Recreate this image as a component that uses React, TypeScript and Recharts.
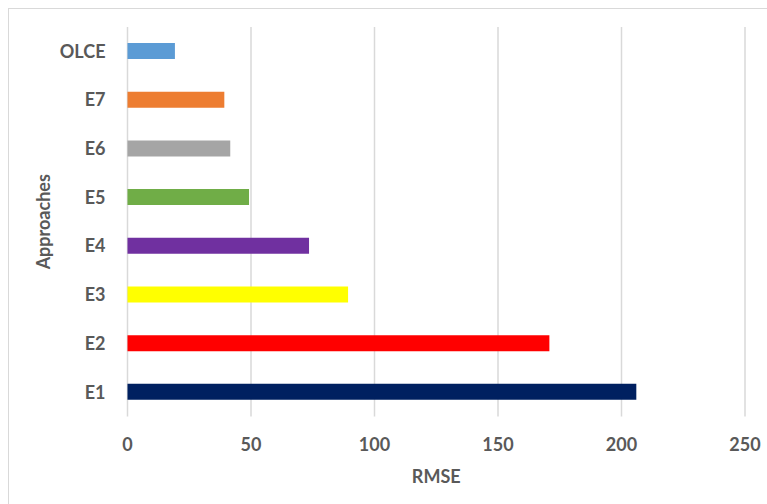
import { BarChart, Bar, XAxis, YAxis, CartesianGrid, Cell } from "recharts";

const approaches = ["OLCE", "E7", "E6", "E5", "E4", "E3", "E2", "E1"];
const rmse = [19.2, 39.2, 41.6, 49.2, 73.5, 89.3, 170.8, 206];
const barColors = ["#5B9BD5", "#ED7D31", "#A5A5A5", "#70AD47", "#7030A0", "#FFFF00", "#FF0000", "#002060"];
const xTicks = [0, 50, 100, 150, 200, 250];

const data = approaches.map((name, i) => ({ name, value: rmse[i] }));

const font = { fontFamily: "Lato", fontWeight: 700, fontSize: 18, fill: "#595959" };

export default function App() {
  // absolute so the body margin doesn't push the page into scrollbars
  return (
    <div
      style={{
        position: "absolute",
        left: 8,
        top: 8,
        width: 759,
        height: 496,
        boxSizing: "border-box",
        borderTop: "1px solid #d9d9d9",
        borderLeft: "1px solid #d9d9d9",
        background: "#fff",
        overflow: "hidden",
      }}
    >
      <BarChart
        width={758}
        height={495}
        data={data}
        layout="vertical"
        margin={{ top: 18, right: 22, left: 0, bottom: 0 }}
      >
        <CartesianGrid horizontal={false} stroke="#d9d9d9" strokeWidth={1.5} />
        <XAxis
          type="number"
          domain={[0, 250]}
          ticks={xTicks}
          axisLine={false}
          tickLine={false}
          tickSize={0}
          tickMargin={22}
          height={87.5}
          tick={font}
          label={{
            content: ({ viewBox }: any) => (
              <text
                x={viewBox.x + viewBox.width / 2}
                y={viewBox.y + 66.5}
                textAnchor="middle"
                {...font}
              >
                RMSE
              </text>
            ),
          }}
        />
        <YAxis
          type="category"
          dataKey="name"
          width={118.5}
          axisLine={false}
          tickLine={false}
          tickSize={0}
          tickMargin={22}
          tick={font}
          label={{
            content: ({ viewBox }: any) => {
              const cy = viewBox.y + viewBox.height / 2;
              return (
                <text x={41} y={cy} textAnchor="middle" transform={`rotate(-90, 41, ${cy})`} {...font}>
                  Approaches
                </text>
              );
            },
          }}
        />
        <Bar dataKey="value" barSize={16} isAnimationActive={false}>
          {data.map((d, i) => (
            <Cell key={d.name} fill={barColors[i]} />
          ))}
        </Bar>
      </BarChart>
    </div>
  );
}
